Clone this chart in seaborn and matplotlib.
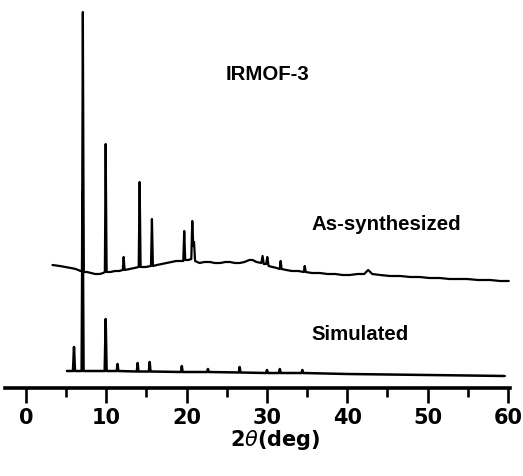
import matplotlib
matplotlib.use("Agg")
import matplotlib.pyplot as plt
from matplotlib.ticker import MultipleLocator
import seaborn as sns
import pandas as pd

# ---- data (2theta in deg, intensity in arbitrary units) ----
as_x = [3.3, 4.2, 4.9, 5.6, 6.2, 6.8, 6.97, 7.08, 7.2, 7.6, 8.1, 8.6, 9.2, 9.6, 9.82, 9.92,
        10.04, 10.5, 11.1, 11.6, 12.05, 12.16, 12.28, 12.9, 13.5, 14.03, 14.15, 14.27, 14.9,
        15.56, 15.68, 15.8, 16.3, 16.9, 17.5, 18.1, 18.7, 19.2, 19.58, 19.7, 19.82, 20.2,
        20.58, 20.7, 20.82, 20.92, 21.05, 21.6, 22.2, 22.9, 23.5, 24.2, 24.8, 25.4, 26.0,
        26.6, 27.2, 27.8, 28.2, 28.7, 29.3, 29.45, 29.6, 29.9, 30.04, 30.2, 30.7, 31.2,
        31.58, 31.7, 31.82, 32.4, 33.1, 33.9, 34.58, 34.7, 34.82, 35.6, 36.6, 37.5, 38.5,
        39.4, 40.3, 41.3, 42.1, 42.6, 43.1, 44.1, 45.3, 46.6, 47.8, 49.0, 50.2, 51.5, 52.7,
        53.8, 54.9, 56.3, 57.8, 59.0, 60.1]
as_y = [106, 105, 104, 103, 102, 100, 100, 359, 99, 99, 98, 97, 97, 98, 99, 227,
        99, 99, 100, 100, 101, 114, 101, 102, 103, 104, 189, 104, 104,
        105, 152, 105, 106, 107, 108, 109, 110, 110, 110, 140, 111, 111,
        112, 150, 125, 129, 110, 108, 109, 109, 108, 108, 109, 109, 108,
        108, 109, 111, 111, 109, 108, 115, 107, 107, 114, 105, 104, 103,
        102, 110, 102, 101, 100, 100, 99, 105, 99, 98, 98, 97, 97,
        96, 96, 97, 97, 101, 97, 96, 95, 95, 94, 94, 93, 93, 92,
        92, 92, 91, 91, 90, 90]

sim_x = [5.1, 5.85, 5.98, 6.1, 6.93, 7.05, 7.17, 9.8, 9.92, 10.04, 11.3, 11.4, 11.5,
         13.8, 13.9, 14.0, 15.3, 15.4, 15.5, 19.3, 19.4, 19.5, 22.55, 22.65, 22.75,
         26.5, 26.6, 26.7, 29.9, 30.0, 30.1, 31.5, 31.6, 31.7, 34.3, 34.4, 34.5,
         40.0, 45.0, 50.0, 55.0, 59.6]
sim_y = [0, 0, 24, 0, 0, 180, 0, 0, 52, 0, 0, 7, 0,
         -0.5, 8, -0.5, -0.5, 9, -0.5, -1, 5, -1, -1, 2, -1,
         -1.5, 4, -1.5, -2, 1, -2, -2, 2, -2, -2, 1, -2,
         -3, -3.5, -4, -4.5, -5]

xticks = [0, 10, 20, 30, 40, 50, 60]
title_text = "IRMOF-3"
series_labels = ["As-synthesized", "Simulated"]

# ---- plotting ----
sns.set_style("white")
plt.rcParams["font.family"] = ["DejaVu Sans"]
plt.rcParams["mathtext.fontset"] = "dejavusans"
plt.rcParams["text.color"] = "black"
plt.rcParams["axes.labelcolor"] = "black"
plt.rcParams["xtick.color"] = "black"

fig = plt.figure(figsize=(5.23, 4.77), dpi=100)
ax = fig.add_axes([5 / 523, 88.5 / 477, 505 / 523, 388.5 / 477])

df_as = pd.DataFrame({"x": as_x, "y": as_y})
df_sim = pd.DataFrame({"x": sim_x, "y": sim_y})
sns.lineplot(data=df_as, x="x", y="y", sort=False, estimator=None, color="black",
             lw=1.6, ax=ax)
sns.lineplot(data=df_sim, x="x", y="y", sort=False, estimator=None, color="black",
             lw=1.8, ax=ax)

ax.set_xlim(-2.61, 60.25)
ax.set_ylim(-16.5, 372)

for s in ["top", "right", "left"]:
    ax.spines[s].set_visible(False)
ax.spines["bottom"].set_linewidth(2.6)
ax.spines["bottom"].set_color("black")
ax.set_yticks([])
ax.set_xticks(xticks)
ax.xaxis.set_minor_locator(MultipleLocator(5))
ax.tick_params(axis="x", which="major", direction="out", length=10.8, width=1.9,
               pad=3.5, colors="black", labelsize=15, bottom=True)
ax.tick_params(axis="x", which="minor", direction="out", length=6.5, width=1.9,
               colors="black", bottom=True)
for lab in ax.get_xticklabels():
    lab.set_fontweight("bold")
    lab.set_family("DejaVu Sans")
    lab.set_color("black")

ax.set_xlabel(r"2$\theta$(deg)", fontsize=15, fontweight="bold", labelpad=0,
              color="black")
ax.xaxis.set_label_coords(0.535, -0.102)
ax.set_ylabel("")

ax.text(30.1, 298, title_text, ha="center", va="center", fontsize=14.7,
        fontweight="bold", family="Liberation Sans", color="black")
ax.text(44.9, 142, series_labels[0], ha="center", va="baseline", fontsize=14.7,
        fontweight="bold", family="Liberation Sans", color="black")
ax.text(41.6, 32, series_labels[1], ha="center", va="baseline", fontsize=14.7,
        fontweight="bold", family="Liberation Sans", color="black")

fig.savefig("out.png", dpi=100, facecolor="white")
